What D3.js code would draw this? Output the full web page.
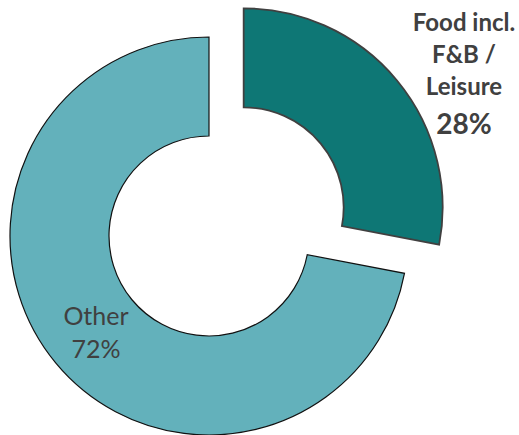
<!DOCTYPE html>
<html>
<head>
<meta charset="utf-8">
<script src="https://cdn.jsdelivr.net/npm/d3@7"></script>
<style>
  body { margin: 0; background: #fff; }
  text { font-family: Lato, "Open Sans", sans-serif; fill: #404040; }
</style>
</head>
<body>
<script>
var w = 519;
var h = 435;

// data
var categories = ["Food incl. F&B / Leisure", "Other"];
var shares = [28, 72];
var labelLines = [["Food incl.", "F&B /", "Leisure"], ["Other"]];
var colors = ["#0e7775", "#63b1bb"];
var strokes = ["#404040", "#111111"];

var cx = 209, cy = 236;
var rOuter = 199, rInner = 100;
var explode = [45, 0];

var pie = d3.pie().sort(null).value(function(d) { return d; });
var arcs = pie(shares);

var arc = d3.arc().innerRadius(rInner).outerRadius(rOuter);

var svg = d3.select("body")
            .append("svg")
            .attr("width", w)
            .attr("height", h);

var g = svg.append("g").attr("transform", "translate(" + cx + "," + cy + ")");

// slices, the food slice pulled out along its bisector
g.selectAll("path")
  .data(arcs)
  .enter()
  .append("path")
  .attr("d", arc)
  .attr("transform", function(d, i) {
    var a = (d.startAngle + d.endAngle) / 2;
    return "translate(" + (Math.sin(a) * explode[i]) + "," + (-Math.cos(a) * explode[i]) + ")";
  })
  .style("fill", function(d, i) { return colors[i]; })
  .style("stroke", function(d, i) { return strokes[i]; })
  .style("stroke-width", function(d, i) { return i == 0 ? 1.8 : 1.2; });

// food label, outside to the upper right
var foodLabel = svg.append("text")
  .attr("text-anchor", "middle")
  .style("font-weight", "bold");
labelLines[0].forEach(function(t, i) {
  foodLabel.append("tspan")
    .attr("x", 464)
    .attr("y", 31 + i * 32)
    .style("font-size", "24px")
    .text(t);
});
foodLabel.append("tspan")
  .attr("x", 464)
  .attr("y", 134)
  .style("font-size", "28px")
  .text(shares[0] + "%");

// other label, inside the ring
var otherLabel = svg.append("text")
  .attr("text-anchor", "middle")
  .style("font-size", "25px");
otherLabel.append("tspan").attr("x", 96).attr("y", 325).text(labelLines[1][0]);
otherLabel.append("tspan").attr("x", 96).attr("y", 358).text(shares[1] + "%");
</script>
</body>
</html>
